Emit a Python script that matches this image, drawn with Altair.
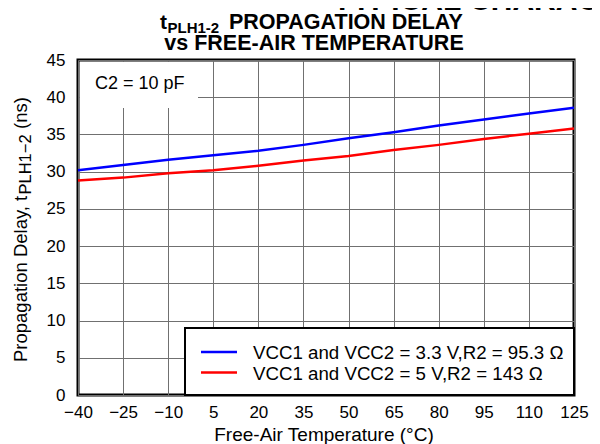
import altair as alt
import pandas as pd

# ---- data ----
temps = [-40, -25, -10, 5, 20, 35, 50, 65, 80, 95, 110, 125]
delay_33v = [30.2, 30.9, 31.6, 32.2, 32.8, 33.6, 34.5, 35.3, 36.2, 37.0, 37.8, 38.6]
delay_5v = [28.8, 29.2, 29.8, 30.2, 30.8, 31.5, 32.1, 32.9, 33.6, 34.4, 35.1, 35.8]
series_labels = ["VCC1 and VCC2 = 3.3 V,R2 = 95.3 \u03a9", "VCC1 and VCC2 = 5 V,R2 = 143 \u03a9"]
series_colors = ["#0000ff", "#ff0000"]
y_ticks = [0, 5, 10, 15, 20, 25, 30, 35, 40, 45]

rows = []
for t, a, b in zip(temps, delay_33v, delay_5v):
    rows.append({"temp": t, "delay": a, "series": series_labels[0]})
    rows.append({"temp": t, "delay": b, "series": series_labels[1]})
df = pd.DataFrame(rows)
one = pd.DataFrame({"k": [0]})

FONT = "Liberation Sans"
W, H = 496, 335

lines = alt.Chart(df).mark_line(strokeWidth=2.5).encode(
    x=alt.X("temp:Q",
            scale=alt.Scale(domain=[-40, 125], nice=False, zero=False),
            axis=alt.Axis(values=temps, grid=True, gridColor="#707070", gridWidth=1,
                          ticks=False, domain=False, labelFont=FONT, labelFontSize=17,
                          labelColor="black", labelPadding=9, labelFlush=False,
                          title=None)),
    y=alt.Y("delay:Q",
            scale=alt.Scale(domain=[0, 45], nice=False),
            axis=alt.Axis(values=y_ticks, grid=True, gridColor="#707070", gridWidth=1,
                          ticks=False, domain=False, labelFont=FONT, labelFontSize=17,
                          labelColor="black", labelPadding=13, title=None)),
    color=alt.Color("series:N", scale=alt.Scale(domain=series_labels, range=series_colors),
                    legend=None),
)

def txt(text, x, y, size, weight="normal", align="left", angle=0, baseline="alphabetic"):
    kw = dict(align=align, baseline=baseline, font=FONT, fontSize=size,
              fontWeight=weight, color="black")
    if angle:
        kw["angle"] = angle
    return alt.Chart(one).mark_text(**kw).encode(
        x=alt.value(x), y=alt.value(y), text=alt.value(text))

# C2 box covering the grid
c2_box = alt.Chart(one).mark_rect(fill="white").encode(
    x=alt.value(2), x2=alt.value(120), y=alt.value(2), y2=alt.value(48))
c2_text = txt("C2 = 10 pF", 17, 29, 18)

# legend box
leg_box = alt.Chart(one).mark_rect(fill="white", stroke="black", strokeWidth=2).encode(
    x=alt.value(107), x2=alt.value(496), y=alt.value(268), y2=alt.value(335))
leg_layers = []
for i, (lab, col) in enumerate(zip(series_labels, series_colors)):
    yy = 292 + i * 20.5
    leg_layers.append(alt.Chart(one).mark_rule(color=col, strokeWidth=2.5).encode(
        x=alt.value(123), x2=alt.value(159), y=alt.value(yy)))
    leg_layers.append(txt(lab, 175, yy + 1, 18.7, baseline="middle"))

# titles
titles = [
    txt("TYPICAL CHARACTERISTICS", 255, -50, 30, weight="bold"),
    txt("t", 82, -31, 21, weight="bold"),
    txt("PLH1-2", 89.5, -27, 15, weight="bold"),
    txt("PROPAGATION DELAY", 151, -31, 21.5, weight="bold"),
    txt("vs FREE-AIR TEMPERATURE", 236, -10, 21.5, weight="bold", align="center"),
    txt("Free-Air Temperature (\u00b0C)", 246, 381, 19, align="center"),
    # rotated y-axis title
    txt("Propagation Delay, t", -51, 302, 18.5, angle=270),
    txt("PLH1\u22122", -47, 134.5, 16.5, angle=270),
    txt("(ns)", -51, 69, 18.5, angle=270),
]

chart = alt.layer(lines, c2_box, c2_text, leg_box, *leg_layers, *titles).properties(
    width=W, height=H,
    autosize=alt.AutoSizeParams(type="none"),
    padding={"left": 70, "top": 52, "right": 18, "bottom": 49},
).configure_view(stroke="black", strokeWidth=3)

chart.save("out.html", embed_options={"renderer": "svg", "actions": False})
